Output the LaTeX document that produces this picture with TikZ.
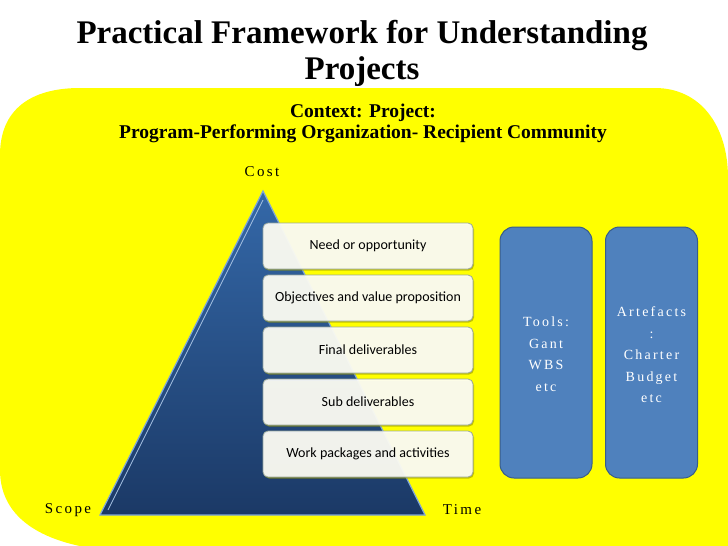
\documentclass[tikz,border=0pt]{standalone}
\usepackage{fontspec}
\setmainfont{Liberation Serif}
\newfontfamily\boxfont{Carlito}
\newfontfamily\spacedfont[LetterSpace=16]{Liberation Serif}
\usetikzlibrary{shadows,calc}
\definecolor{bgyellow}{HTML}{FFFF00}
\definecolor{pyrtop}{HTML}{3468A8}
\definecolor{pyrbot}{HTML}{1B3966}
\definecolor{pyredge}{HTML}{7FA6D6}
\definecolor{sideblue}{HTML}{4F81BD}
\definecolor{sideedge}{HTML}{385D8A}
\definecolor{boxedge}{HTML}{9AA89A}
\tikzset{
  layerbox/.style={draw=boxedge, line width=0.8pt, fill=white, fill opacity=0.91, text opacity=1,
    rounded corners=5pt, minimum width=210pt, minimum height=46pt, font=\boxfont\fontsize{14}{16}\selectfont,
    drop shadow={shadow xshift=1pt, shadow yshift=-1.5pt, fill=black!40!bgyellow, opacity=0.6}},
  sidebox/.style={draw=sideedge, line width=1pt, fill=sideblue, rounded corners=14pt,
    minimum width=92pt, minimum height=251pt},
  sidetext/.style={text=white, align=center, font=\spacedfont\fontsize{14}{21.5}\selectfont},
  axislabel/.style={font=\spacedfont\fontsize{15}{17}\selectfont, text=black}
}
\begin{document}
\begin{tikzpicture}[x=1pt,y=-1pt]
\useasboundingbox (0,0) rectangle (728,546);
\fill[white] (0,0) rectangle (728,546);
% yellow context area
\fill[bgyellow] (0,155) .. controls (0,110) and (30,88) .. (80,88) -- (655,88)
  .. controls (700,88) and (728,125) .. (728,178) -- (732,178) -- (732,552) -- (135,552)
  .. controls (55,550) and (0,525) .. (0,470) -- cycle;
% title
\node[font=\bfseries\fontsize{33}{36}\selectfont, align=center] (title) at (362,53)
  {Practical Framework for Understanding\\Projects};
\node[font=\bfseries\fontsize{19.5}{21}\selectfont, align=center] (context) at (363,123)
  {Context: Project:\\Program-Performing Organization- Recipient Community};
% pyramid
\coordinate (apex) at (263,191);
\coordinate (bl) at (100,515);
\coordinate (br) at (425,515);
\shade[top color=pyrtop, bottom color=pyrbot, draw=pyredge, line width=1.2pt]
  (apex) -- (br) -- (bl) -- cycle;
\draw[pyredge!70, line width=0.8pt] ($(apex)+(0,9)$) -- ($(bl)+(8,-5)$);
% axis labels
\node[axislabel] (cost) at (262,172) {Cost};
\node[axislabel] (scope) at (68,510) {Scope};
\node[axislabel] (time) at (462,510) {Time};
% layer boxes
\node[layerbox] (l1) at (368,246) {Need or opportunity};
\node[layerbox] (l2) at (368,298) {Objectives and value proposition};
\node[layerbox] (l3) at (368,350) {Final deliverables};
\node[layerbox] (l4) at (368,402) {Sub deliverables};
\node[layerbox] (l5) at (368,454) {Work packages and activities};
% side boxes
\node[sidebox] (tools) at (546,352.5) {};
\node[sidebox] (artefacts) at (651.5,352.5) {};
\node[sidetext] (toolstext) at (546,354) {Tools:\\Gant\\WBS\\etc};
\node[sidetext] (arttext) at (651.5,355) {Artefacts\\:\\Charter\\Budget\\etc};
\end{tikzpicture}
\end{document}
